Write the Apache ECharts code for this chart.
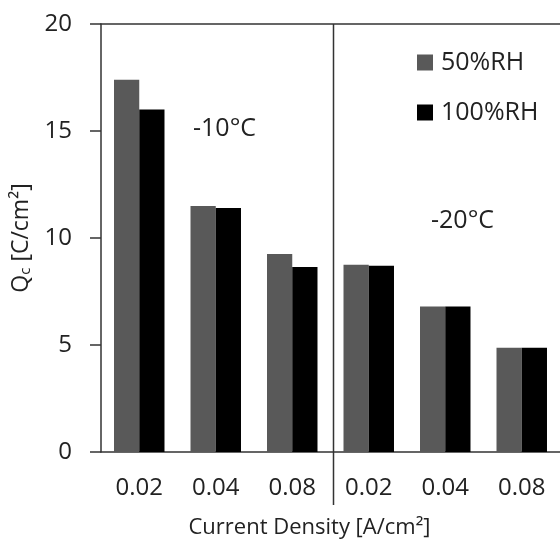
<!DOCTYPE html>
<html>
<head>
<meta charset="utf-8">
<script src="https://cdn.jsdelivr.net/npm/echarts@6/dist/echarts.min.js"></script>
<style>
  html, body { margin: 0; padding: 0; background: #fff; }
  #chart { width: 560px; height: 546px; }
</style>
</head>
<body>
<div id="chart"></div>
<script>
// current density per temperature block (-10°C then -20°C)
const categories = ['0.02', '0.04', '0.08', '0.02', '0.04', '0.08'];
const rh50 = [17.4, 11.5, 9.25, 8.75, 6.8, 4.87];
const rh100 = [16.0, 11.4, 8.65, 8.7, 6.8, 4.87];
const yTicks = [0, 5, 10, 15, 20];

const textColor = '#222';
const font = 'Open Sans';

let myChart = echarts.init(document.getElementById('chart'));

let option = {
  animation: false,
  textStyle: { fontFamily: font },
  grid: { left: 101, top: 24, width: 465, height: 428, containLabel: false },
  legend: {
    orient: 'vertical',
    left: 412,
    top: 45,
    icon: 'rect',
    itemWidth: 16,
    itemHeight: 16,
    itemGap: 25,
    textStyle: { fontSize: 25, color: textColor, fontFamily: font, padding: [0, 0, 0, 3] },
    data: ['50%RH', '100%RH'],
  },
  xAxis: [
    {
      type: 'category',
      data: categories,
      name: 'Current Density [A/cm²]',
      nameLocation: 'middle',
      nameGap: 65,
      nameTextStyle: { fontSize: 22, color: textColor, padding: [0, 42, 0, 0] },
      axisLine: { lineStyle: { color: '#333', width: 1.5 } },
      axisTick: { length: 10, lineStyle: { color: '#333', width: 1.5 } },
      axisLabel: { fontSize: 24, color: textColor, margin: 24 },
    },
    {
      // top border line at 20
      type: 'category',
      position: 'top',
      data: categories,
      axisLine: { show: true, lineStyle: { color: '#333', width: 1.5 } },
      axisTick: { show: false },
      axisLabel: { show: false },
    },
  ],
  yAxis: {
    type: 'value',
    min: 0,
    max: 20,
    interval: 5,
    name: '{q|Q}{s|c}{q| [C/cm²]}',
    nameLocation: 'middle',
    nameGap: 64,
    nameTextStyle: {
      color: textColor,
      rich: {
        q: { fontSize: 23, color: textColor, fontFamily: font },
        s: { fontSize: 15, color: textColor, fontFamily: font, padding: [10, 0, 0, 0] },
      },
    },
    axisLine: { show: true, lineStyle: { color: '#333', width: 1.5 } },
    axisTick: { show: true, length: 11, lineStyle: { color: '#333', width: 1.5 } },
    axisLabel: {
      fontSize: 24,
      color: textColor,
      margin: 29,
      formatter: (v) => (yTicks.includes(v) ? String(v) : ''),
    },
    splitLine: { show: false },
  },
  series: [
    {
      name: '50%RH',
      type: 'bar',
      data: rh50,
      barGap: 0,
      barCategoryGap: '34%',
      itemStyle: { color: '#595959' },
    },
    {
      name: '100%RH',
      type: 'bar',
      data: rh100,
      barGap: 0,
      barCategoryGap: '34%',
      itemStyle: { color: '#000000' },
    },
  ],
  graphic: [
    {
      type: 'line',
      shape: { x1: 333.5, y1: 24, x2: 333.5, y2: 505 },
      style: { stroke: '#333', lineWidth: 1.5 },
    },
    {
      type: 'text',
      left: 193,
      top: 116,
      style: { text: '-10°C', fontSize: 25, fill: textColor, fontFamily: font },
    },
    {
      type: 'text',
      left: 431,
      top: 208,
      style: { text: '-20°C', fontSize: 25, fill: textColor, fontFamily: font },
    },
  ],
};

myChart.setOption(option);
</script>
</body>
</html>
